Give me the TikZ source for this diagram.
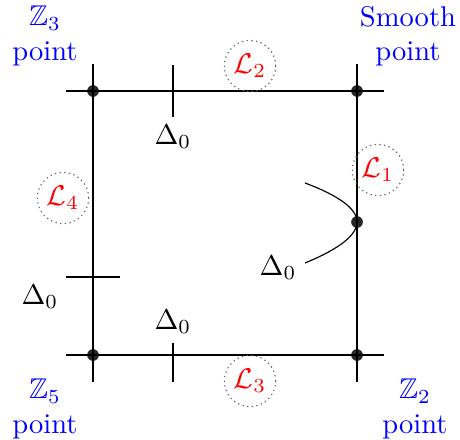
\documentclass[tikz,border=0pt]{standalone}
\usepackage{amsmath}
\usepackage{amssymb}

\tikzset{
  dot/.style={circle,fill=black!85,inner sep=0pt,minimum size=4.1pt},
  ptlabel/.style={text=blue,align=center,inner sep=0pt},
  loclabel/.style={circle,draw=black!60,dash pattern=on 0.45pt off 1.2pt,
    text=red,inner sep=1.4pt},
  long/.style={shorten <=-9.3pt,shorten >=-9.3pt}
}

\begin{document}
\begin{tikzpicture}[x=0.35pt,y=-0.35pt,line width=0.4pt]
\useasboundingbox (0,0) rectangle (460,439);
% ---------- 四个角点与光滑点 ----------
\node[dot] (tl) at (93,91) {};
\node[dot] (tr) at (357,91) {};
\node[dot] (bl) at (93,355) {};
\node[dot] (br) at (357,355) {};
\node[dot] (mid) at (357,222) {};
% 方框的四条边（两端伸出）
\draw[long] (tl.center) -- (tr.center);
\draw[long] (bl.center) -- (br.center);
\draw[long] (tl.center) -- (bl.center);
\draw[long] (tr.center) -- (br.center);
% ---------- Delta_0 短线 ----------
\coordinate (topA) at (173,65);
\coordinate (topB) at (173,117);
\draw (topA) -- (topB);
\node (dtop) at (173,137) {$\Delta_0$};
\coordinate (botA) at (173,343);
\coordinate (botB) at (173,382);
\draw (botA) -- (botB);
\node (dbot) at (173,322) {$\Delta_0$};
\coordinate (lftA) at (66,277);
\coordinate (lftB) at (120,277);
\draw (lftA) -- (lftB);
\node (dlft) at (40,297) {$\Delta_0$};
% 右侧抛物线
\coordinate (cupA) at (305,183);
\coordinate (cupB) at (305,263);
\draw (cupA) .. controls (339.7,196) and (357,209) .. (mid.center)
  .. controls (357,235) and (339.7,248.7) .. (cupB);
\node (dcup) at (278,268) {$\Delta_0$};
% ---------- L_i 标签 ----------
\node[loclabel] (L1) at (378,170) {$\mathcal{L}_1$};
\node[loclabel] (L2) at (250,66) {$\mathcal{L}_2$};
\node[loclabel] (L3) at (250,381) {$\mathcal{L}_3$};
\node[loclabel] (L4) at (63,198) {$\mathcal{L}_4$};
% ---------- 角点名称 ----------
\node[ptlabel] (z3) at (45,36) {$\mathbb{Z}_3$\\point};
\node[ptlabel] (sm) at (408,36) {Smooth\\point};
\node[ptlabel] (z5) at (45,409) {$\mathbb{Z}_5$\\point};
\node[ptlabel] (z2) at (415,409) {$\mathbb{Z}_2$\\point};
\end{tikzpicture}
\end{document}
